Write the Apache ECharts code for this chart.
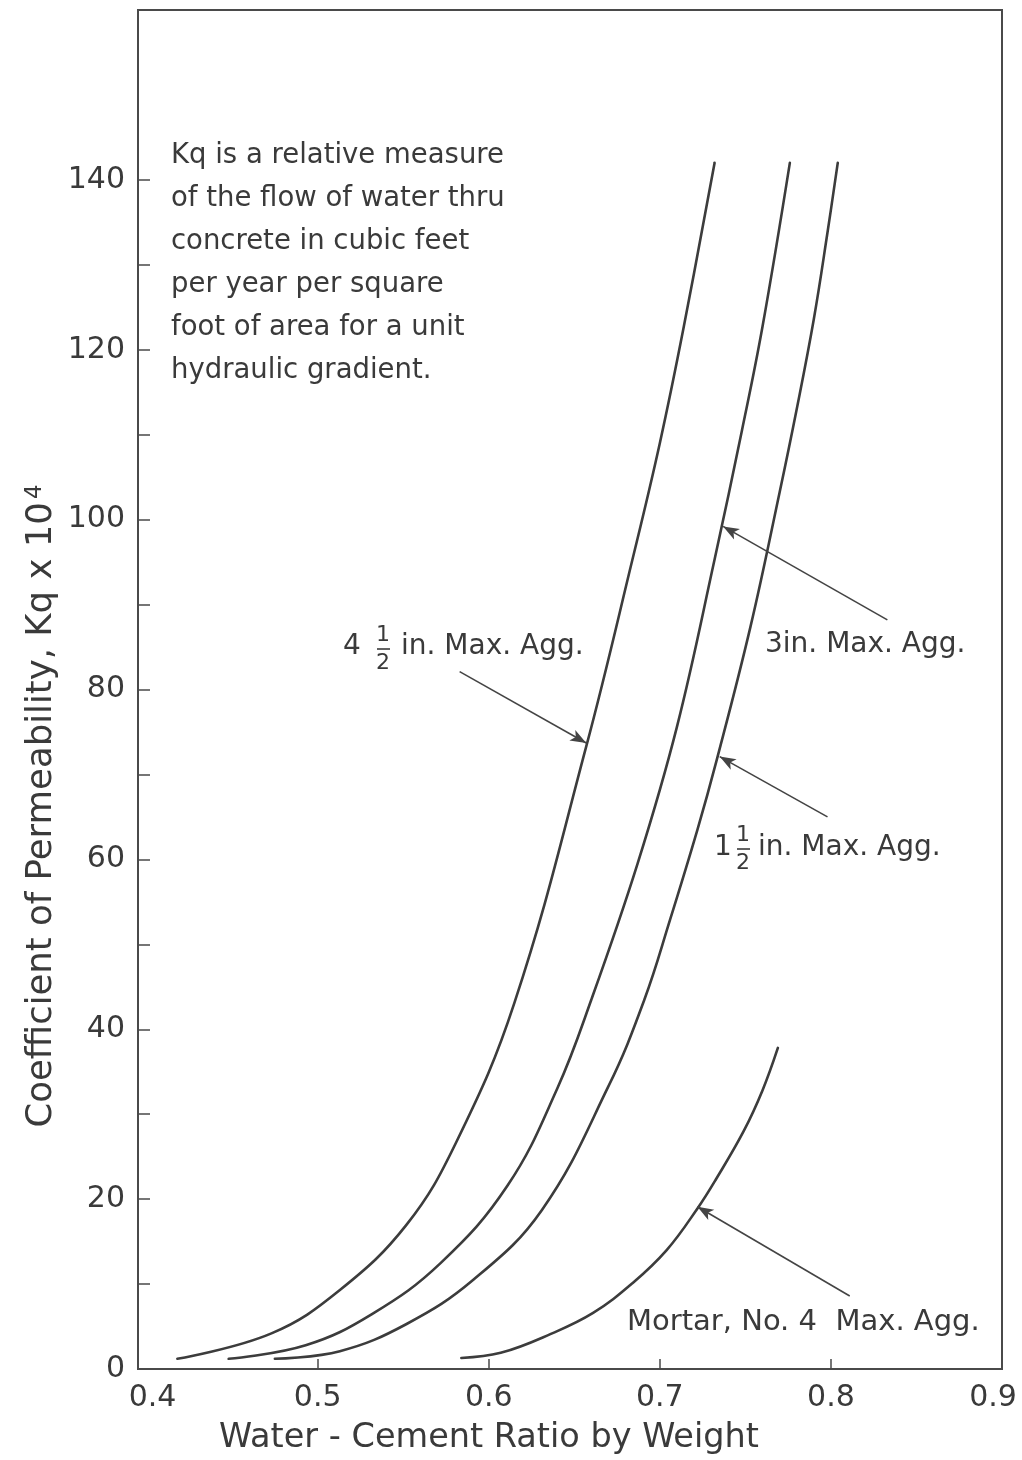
<!DOCTYPE html>
<html><head><meta charset="utf-8">
<script src="https://cdn.jsdelivr.net/npm/echarts@6/dist/echarts.min.js"></script>
<style>html,body{margin:0;padding:0;background:#fff}#c{width:1022px;height:1460px}</style>
</head><body><div id="c"></div>
<script>
// ---- data ----
const xLabelValues = [0.4, 0.5, 0.6, 0.7, 0.8, 0.9];
const xTickValues = [0.5, 0.6, 0.7, 0.8];
const yLabelValues = [0, 20, 40, 60, 80, 100, 120, 140];
const yTickValues = [10, 20, 30, 40, 50, 60, 70, 80, 90, 100, 110, 120, 130, 140];

const agg45_wc = [0.418, 0.473, 0.513, 0.552, 0.581, 0.615, 0.657, 0.684, 0.700, 0.714, 0.732];
const agg45_kq = [1.2, 4.2, 9.3, 17.0, 26.7, 43.1, 73.3, 95.3, 109.0, 122.7, 142.0];

const agg3_wc = [0.448, 0.493, 0.532, 0.572, 0.611, 0.640, 0.660, 0.687, 0.710, 0.732, 0.748, 0.760, 0.776];
const agg3_kq = [1.2, 2.8, 6.5, 12.5, 21.6, 33.0, 43.5, 59.5, 75.6, 95.3, 110.5, 122.7, 142.0];

const agg15_wc = [0.475, 0.513, 0.552, 0.591, 0.631, 0.670, 0.691, 0.706, 0.722, 0.733, 0.753, 0.770, 0.780, 0.790, 0.798, 0.804];
const agg15_kq = [1.2, 2.1, 5.3, 10.5, 18.7, 33.3, 43.5, 52.9, 63.5, 71.5, 87.4, 103.2, 113.0, 123.6, 133.8, 142.0];

const mortar_wc = [0.584, 0.607, 0.636, 0.661, 0.684, 0.704, 0.722, 0.733, 0.749, 0.760, 0.769];
const mortar_kq = [1.3, 1.9, 4.1, 6.6, 10.1, 14.0, 18.9, 22.4, 28.0, 32.8, 37.8];

// arrows: [tail, head] in data coordinates
const arrows = [
  [[0.583, 82.1], [0.657, 73.7]],
  [[0.833, 88.2], [0.737, 99.2]],
  [[0.798, 65.0], [0.735, 72.1]],
  [[0.811, 8.6], [0.722, 19.1]]
];

const noteLines = [
  'Kq is a relative measure',
  'of the flow of water thru',
  'concrete in cubic feet',
  'per year per square',
  'foot of area for a unit',
  'hydraulic gradient.'
];

const FONT = 'DejaVu Sans';
const INK = '#3a3a3a';
const LINE = '#3c3c3c';

function zip(a, b) { return a.map((v, i) => [v, b[i]]); }

const chart = echarts.init(document.getElementById('c'), null, {renderer: 'canvas'});

const curveStyle = {color: LINE, width: 2.6, cap: 'round'};
function curve(name, xs, ys, extra) {
  return Object.assign({
    name: name, type: 'line', data: zip(xs, ys), smooth: 0.4,
    showSymbol: false, symbol: 'none', lineStyle: curveStyle, silent: true, z: 3
  }, extra || {});
}

const xLabelStyle = {fontFamily: FONT, fontSize: 30, color: INK};

const option = {
  backgroundColor: '#fff',
  animation: false,
  grid: {left: 138, right: 20, top: 10, bottom: 91, outerBoundsMode: 'none', containLabel: false,
         show: true, borderColor: '#4a4a4a', borderWidth: 2, backgroundColor: 'transparent'},
  xAxis: {
    type: 'value', min: 0.395, max: 0.9,
    axisLine: {show: true, lineStyle: {color: '#4a4a4a', width: 2}},
    axisTick: {show: true, inside: true, length: 10, customValues: xTickValues, lineStyle: {color: '#4a4a4a', width: 1.5}},
    axisLabel: {
      customValues: xLabelValues, margin: 14, hideOverlap: false,
      fontFamily: FONT, fontSize: 30, color: INK,
      formatter: v => {
        const t = v.toFixed(1);
        if (Math.abs(v - 0.4) < 1e-6) return '{l|' + t + '}';
        if (Math.abs(v - 0.9) < 1e-6) return '{r|' + t + '}';
        return t;
      },
      rich: {
        l: Object.assign({padding: [0, 0, 0, 12]}, xLabelStyle),
        r: Object.assign({padding: [0, 18, 0, 0]}, xLabelStyle)
      }
    },
    splitLine: {show: false}
  },
  yAxis: {
    type: 'value', min: 0, max: 160,
    axisLine: {show: true, lineStyle: {color: '#4a4a4a', width: 2}},
    axisTick: {show: true, inside: true, length: 12, customValues: yTickValues, lineStyle: {color: '#4a4a4a', width: 1.5}},
    axisLabel: {customValues: yLabelValues, fontFamily: FONT, fontSize: 30, color: INK, margin: 13},
    splitLine: {show: false}
  },
  series: [
    curve('4 1/2 in. Max. Agg.', agg45_wc, agg45_kq, {
      markLine: {
        silent: true, symbol: ['none', 'arrow'], symbolSize: [9, 16],
        label: {show: false},
        lineStyle: {color: '#444', width: 1.6, type: 'solid'},
        data: arrows.map(a => [{coord: a[0]}, {coord: a[1]}])
      }
    }),
    curve('3 in. Max. Agg.', agg3_wc, agg3_kq),
    curve('1 1/2 in. Max. Agg.', agg15_wc, agg15_kq),
    curve('Mortar, No. 4 Max. Agg.', mortar_wc, mortar_kq)
  ],
  graphic: [
    // explanatory note
    {type: 'text', left: 171, top: 134, style: {text: noteLines.join('\n'), font: '27.5px "DejaVu Sans"', fill: INK, lineHeight: 43}},
    // axis titles
    {type: 'text', x: 489, y: 1438, style: {text: 'Water - Cement Ratio by Weight', font: '33.5px "DejaVu Sans"', fill: INK, align: 'center', verticalAlign: 'middle'}},
    {type: 'text', x: 42, y: 806, rotation: Math.PI / 2, style: {
      text: '{a|Coefficient of Permeability, Kq x 10}{s|4}', align: 'center', verticalAlign: 'middle', fill: INK,
      rich: {a: {fontFamily: FONT, fontSize: 35.5, color: INK}, s: {fontFamily: FONT, fontSize: 23, color: INK, verticalAlign: 'top', padding: [0, 0, 0, 3]}}
    }},
    // 4 1/2 label
    {type: 'text', x: 343, y: 647, style: {text: '4', font: '28px "DejaVu Sans"', fill: INK, verticalAlign: 'middle'}},
    {type: 'text', x: 383, y: 635, style: {text: '1', font: '22px "DejaVu Sans"', fill: INK, align: 'center', verticalAlign: 'middle'}},
    {type: 'line', shape: {x1: 377, y1: 649, x2: 390, y2: 649}, style: {stroke: INK, lineWidth: 1.6}},
    {type: 'text', x: 383, y: 663, style: {text: '2', font: '22px "DejaVu Sans"', fill: INK, align: 'center', verticalAlign: 'middle'}},
    {type: 'text', x: 401, y: 647, style: {text: 'in. Max. Agg.', font: '28px "DejaVu Sans"', fill: INK, verticalAlign: 'middle'}},
    // 3 in label
    {type: 'text', x: 765, y: 645, style: {text: '3in. Max. Agg.', font: '28px "DejaVu Sans"', fill: INK, verticalAlign: 'middle'}},
    // 1 1/2 label
    {type: 'text', x: 714, y: 848, style: {text: '1', font: '28px "DejaVu Sans"', fill: INK, verticalAlign: 'middle'}},
    {type: 'text', x: 743, y: 835, style: {text: '1', font: '22px "DejaVu Sans"', fill: INK, align: 'center', verticalAlign: 'middle'}},
    {type: 'line', shape: {x1: 737, y1: 849, x2: 750, y2: 849}, style: {stroke: INK, lineWidth: 1.6}},
    {type: 'text', x: 743, y: 863, style: {text: '2', font: '22px "DejaVu Sans"', fill: INK, align: 'center', verticalAlign: 'middle'}},
    {type: 'text', x: 758, y: 848, style: {text: 'in. Max. Agg.', font: '28px "DejaVu Sans"', fill: INK, verticalAlign: 'middle'}},
    // mortar label
    {type: 'text', x: 627, y: 1322, style: {text: 'Mortar, No. 4  Max. Agg.', font: '29px "DejaVu Sans"', fill: INK, verticalAlign: 'middle'}}
  ]
};
chart.setOption(option);
</script></body></html>
